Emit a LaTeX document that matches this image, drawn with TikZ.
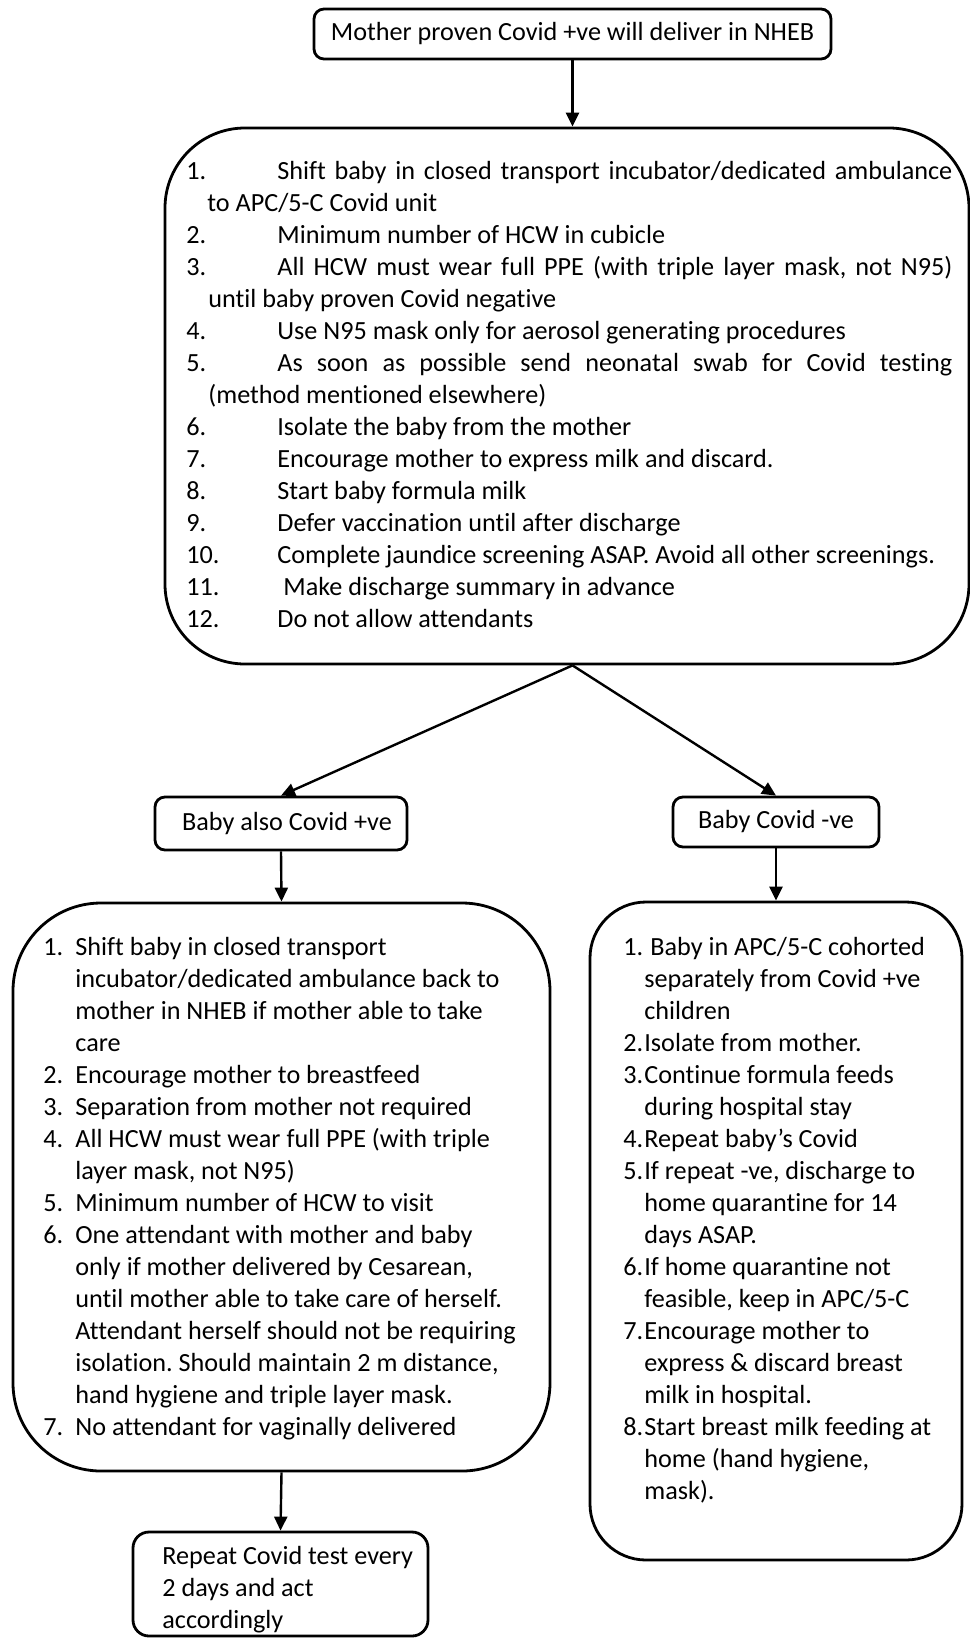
\documentclass[tikz,border=0pt]{standalone}
\usepackage{fontspec}
\setmainfont{Carlito}[Ligatures={NoCommon}]
\usetikzlibrary{arrows.meta}
\frenchspacing
\newlength\ind
\newcommand\nl[2]{\hbox{\hbox to \ind{#1\hfil}#2}}
\newcommand\nj[3]{\hbox to #1{\hbox to \ind{#2\hfil}#3}}
\newcommand\cl[1]{\hbox{#1}}
\begin{document}
\begin{tikzpicture}[x=0.5pt,y=-0.5pt,
  every node/.style={font=\fontsize{13.1pt}{16pt}\selectfont},
  flowbox/.style={draw, line width=1.4pt, rounded corners=#1, inner sep=0pt},
  txt/.style={anchor=base west, inner sep=0pt},
  conn/.style={line width=1.2pt, -{Triangle[width=6.5pt,length=7pt]}}]
\useasboundingbox (0,0) rectangle (969,1638);

\node[flowbox=5pt, minimum width=258.5pt, minimum height=25pt] (top) at (572.5,34) {Mother proven Covid +ve will deliver in NHEB};

\node[flowbox=40pt, minimum width=402pt, minimum height=268pt] (main) at (567,396) {};
\setlength\ind{45.5pt}
\node[txt] (mainTxt) at (186,179) {\vtop{\baselineskip=16pt
\nj{383pt}{1.}{Shift baby in closed transport incubator/dedicated ambulance}
\cl{\kern10.5pt to APC/5-C Covid unit}
\nl{2.}{Minimum number of HCW in cubicle}
\nj{383pt}{3.}{All HCW must wear full PPE (with triple layer mask, not N95)}
\cl{\kern11pt until baby proven Covid negative}
\nl{4.}{Use N95 mask only for aerosol generating procedures}
\nj{383pt}{5.}{As soon as possible send neonatal swab for Covid testing}
\cl{\kern11pt (method mentioned elsewhere)}
\nl{6.}{Isolate the baby from the mother}
\nl{7.}{Encourage mother to express milk and discard.}
\nl{8.}{Start baby formula milk}
\nl{9.}{Defer vaccination until after discharge}
\nl{10.}{Complete jaundice screening ASAP. Avoid all other screenings.}
\nl{11.}{\kern3pt Make discharge summary in advance}
\nl{12.}{Do not allow attendants}}};

\node[flowbox=5pt, minimum width=126pt, minimum height=26.5pt] (pos) at (281,823.5) {\hspace*{6pt}Baby also Covid +ve};
\node[flowbox=5pt, minimum width=103pt, minimum height=25pt] (neg) at (776,822) {Baby Covid -ve};

\node[flowbox=44pt, minimum width=268.5pt, minimum height=284pt] (posBox) at (281.5,1187) {};
\setlength\ind{16pt}
\node[txt] (posTxt) at (43,955) {\vtop{\baselineskip=16pt
\nl{1.}{Shift baby in closed transport}
\cl{\kern16pt incubator/dedicated ambulance back to}
\cl{\kern16pt mother in NHEB if mother able to take}
\cl{\kern16pt care}
\nl{2.}{Encourage mother to breastfeed}
\nl{3.}{Separation from mother not required}
\nl{4.}{All HCW must wear full PPE (with triple}
\cl{\kern16pt layer mask, not N95)}
\nl{5.}{Minimum number of HCW to visit}
\nl{6.}{One attendant with mother and baby}
\cl{\kern16pt only if mother delivered by Cesarean,}
\cl{\kern16pt until mother able to take care of herself.}
\cl{\kern16pt Attendant herself should not be requiring}
\cl{\kern16pt isolation. Should maintain 2 m distance,}
\cl{\kern16pt hand hygiene and triple layer mask.}
\nl{7.}{No attendant for vaginally delivered}}};

\node[flowbox=28pt, minimum width=186pt, minimum height=329pt] (negBox) at (776,1231) {};
\setlength\ind{10.5pt}
\node[txt] (negTxt) at (623,955) {\vtop{\baselineskip=16pt
\nl{1.}{\ Baby in APC/5-C cohorted}
\cl{\kern10.5pt separately from Covid +ve}
\cl{\kern10.5pt children}
\nl{2.}{Isolate from mother.}
\nl{3.}{Continue formula feeds}
\cl{\kern10.5pt during hospital stay}
\nl{4.}{Repeat baby’s Covid}
\nl{5.}{If repeat -ve, discharge to}
\cl{\kern10.5pt home quarantine for 14}
\cl{\kern10.5pt days ASAP.}
\nl{6.}{If home quarantine not}
\cl{\kern10.5pt feasible, keep in APC/5-C}
\nl{7.}{Encourage mother to}
\cl{\kern10.5pt express \& discard breast}
\cl{\kern10.5pt milk in hospital.}
\nl{8.}{Start breast milk feeding at}
\cl{\kern10.5pt home (hand hygiene,}
\cl{\kern10.5pt mask).}}};

\node[flowbox=8pt, minimum width=147.5pt, minimum height=52pt] (rep) at (280.5,1584) {};
\node[txt] (repTxt) at (162,1564) {\vtop{\baselineskip=16pt
\cl{Repeat Covid test every}
\cl{2 days and act}
\cl{accordingly}}};

\coordinate (split) at (top.south |- main.south);
\draw[conn] (top.south) -- (top.south |- main.north);
\draw[conn] (split) -- (pos.north);
\draw[conn] (split) -- (neg.north);
\draw[conn] (pos.south) -- (posBox.north);
\draw[conn] (neg.south) -- (negBox.north);
\draw[conn] (posBox.south) -- (rep.north);
\end{tikzpicture}
\end{document}
